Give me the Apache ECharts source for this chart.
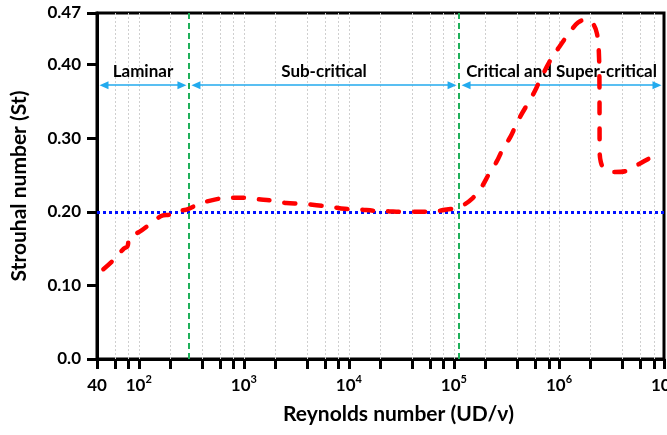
<!DOCTYPE html>
<html>
<head>
<meta charset="utf-8">
<script src="https://cdn.jsdelivr.net/npm/echarts@6/dist/echarts.min.js"></script>
<style>
  html, body { margin: 0; padding: 0; background: #fff; }
  #chart { width: 667px; height: 435px; }
</style>
</head>
<body>
<div id="chart"></div>
<script>
// Strouhal number of a circular cylinder against Reynolds number

const reynolds = [
  46, 57, 72, 78, 81, 102, 130, 170, 196, 224, 284,
  380, 527, 720, 980, 1360, 1890, 2540, 3530, 4920, 6820, 9120,
  12700, 17000, 24500, 33000, 45900, 61600, 85600, 115000,
  152000, 184000, 217000, 255000, 294000, 346000, 408000,
  560000, 638000, 807000, 996000, 1240000, 1520000, 1840000,
  2070000, 2300000, 2400000, 2430000, 2435000, 2440000, 2500000,
  2700000, 3400000, 4500000, 5800000, 8300000
];
const strouhal = [
  0.122, 0.134, 0.150, 0.153, 0.165, 0.173, 0.184, 0.195, 0.196, 0.201, 0.203,
  0.211, 0.2165, 0.219, 0.219, 0.217, 0.215, 0.212, 0.211, 0.209, 0.2065, 0.204,
  0.203, 0.2015, 0.2005, 0.200, 0.200, 0.2005, 0.203, 0.207,
  0.219, 0.234, 0.252, 0.268, 0.286, 0.302, 0.324,
  0.358, 0.374, 0.403, 0.423, 0.442, 0.457, 0.461,
  0.457, 0.442, 0.415, 0.370, 0.320, 0.285, 0.268,
  0.259, 0.254, 0.256, 0.265, 0.277
];

const xLabelValues = [40, 1e2, 1e3, 1e4, 1e5, 1e6, 1e7];
const xTickValues = [
  40, 60, 80, 1e2, 2e2, 4e2, 6e2, 8e2, 1e3, 2e3, 4e3, 6e3, 8e3, 1e4,
  2e4, 4e4, 6e4, 8e4, 1e5, 2e5, 4e5, 6e5, 8e5, 1e6, 2e6, 4e6, 6e6, 8e6, 1e7
];
const yTickValues = [0, 0.1, 0.2, 0.3, 0.4, 0.47];

// flow regimes and their boundaries
const regimeBounds = [40, 300, 112000, 1e7];
const regimeNames = ['Laminar', 'Sub-critical', 'Critical and Super-critical'];
const referenceSt = 0.2;
const regimeArrowSt = 0.372;

const FONT = 'Lato';
const arrowInset = Math.pow(10, 7 / 105); // pulls arrow tips just inside each boundary

const regimeArrows = regimeNames.map((name, i) => [
  { coord: [regimeBounds[i] * arrowInset, regimeArrowSt],
    label: { formatter: name } },
  { coord: [regimeBounds[i + 1] / arrowInset, regimeArrowSt] }
]);

// light dotted vertical grid at every tick position
const gridLines = xTickValues.slice(1, -1).map(v => ({ xAxis: v }));

const chart = echarts.init(document.getElementById('chart'));
chart.setOption({
  animation: false,
  backgroundColor: '#fff',
  grid: {
    left: 97, right: 3, top: 13, bottom: 76,
    containLabel: false,
    outerBoundsMode: 'none',
    show: true, borderColor: '#000', borderWidth: 3, backgroundColor: 'transparent'
  },
  xAxis: {
    type: 'log',
    logBase: 10,
    min: 40,
    max: 1e7,
    name: 'Reynolds number (UD/\u03bd)',
    nameLocation: 'middle',
    nameGap: 45,
    nameTextStyle: {
      fontFamily: FONT, fontWeight: 'bold', fontSize: 21, color: '#000',
      padding: [0, 0, 0, 36]
    },
    axisLine: { show: true, lineStyle: { color: '#000', width: 3 } },
    axisTick: {
      show: true, inside: false, length: 10,
      customValues: xTickValues,
      lineStyle: { color: '#000', width: 3 }
    },
    axisLabel: {
      customValues: xLabelValues,
      margin: 15,
      hideOverlap: false,
      formatter: v => v === 40 ? '{b|40}' : '{b|10}{s|' + Math.round(Math.log10(v)) + '}',
      rich: {
        b: { fontFamily: FONT, fontWeight: 'bold', fontSize: 17, color: '#000', lineHeight: 20, verticalAlign: 'bottom' },
        s: { fontFamily: FONT, fontWeight: 'bold', fontSize: 11, color: '#000', lineHeight: 10, verticalAlign: 'top' }
      }
    },
    splitLine: { show: false },
    minorTick: { show: false },
    minorSplitLine: { show: false }
  },
  yAxis: {
    type: 'value',
    min: 0,
    max: 0.47,
    name: 'Strouhal number (St)',
    nameLocation: 'middle',
    nameGap: 67,
    nameTextStyle: { fontFamily: FONT, fontWeight: 'bold', fontSize: 21, color: '#000' },
    axisLine: { show: true, lineStyle: { color: '#000', width: 3 } },
    axisTick: {
      show: true, inside: false, length: 10,
      customValues: yTickValues,
      lineStyle: { color: '#000', width: 3 }
    },
    axisLabel: {
      customValues: yTickValues,
      margin: 16,
      fontFamily: FONT, fontWeight: 'bold', fontSize: 17, color: '#000',
      formatter: v => v === 0 ? '0.0' : v.toFixed(2)
    },
    splitLine: { show: false }
  },
  series: [
    {
      // vertical dotted grid
      type: 'line',
      data: [],
      z: 0,
      silent: true,
      markLine: {
        silent: true,
        symbol: 'none',
        label: { show: false },
        lineStyle: { color: '#cfcfcf', width: 1, type: [2, 2] },
        data: gridLines
      }
    },
    {
      // reference lines: St = 0.2 and regime boundaries
      type: 'line',
      data: [],
      z: 1,
      silent: true,
      markLine: {
        silent: true,
        symbol: 'none',
        label: { show: false },
        data: [
          { yAxis: referenceSt, lineStyle: { color: '#0010ff', width: 3, type: [3, 3] } },
          { xAxis: regimeBounds[1], lineStyle: { color: '#1fb05a', width: 2, type: [6, 4] } },
          { xAxis: regimeBounds[2], lineStyle: { color: '#1fb05a', width: 2, type: [6, 4] } }
        ]
      }
    },
    {
      // regime arrows with their names
      type: 'line',
      data: [],
      z: 2,
      silent: true,
      markLine: {
        silent: true,
        symbol: ['triangle', 'triangle'],
        symbolSize: [8, 9],
        lineStyle: { color: '#22aaee', width: 1.5, type: 'solid' },
        itemStyle: { color: '#22aaee' },
        label: {
          show: true,
          position: 'middle',
          distance: 5,
          fontFamily: FONT, fontWeight: 'bold', fontSize: 17, color: '#000'
        },
        data: regimeArrows
      }
    },
    {
      name: 'St',
      type: 'line',
      z: 5,
      data: reynolds.map((re, i) => [re, strouhal[i]]),
      showSymbol: false,
      symbol: 'none',
      smooth: 0.4,
      lineStyle: { color: '#ff0000', width: 4.5, type: [11, 15], cap: 'round' }
    }
  ]
});
</script>
</body>
</html>
